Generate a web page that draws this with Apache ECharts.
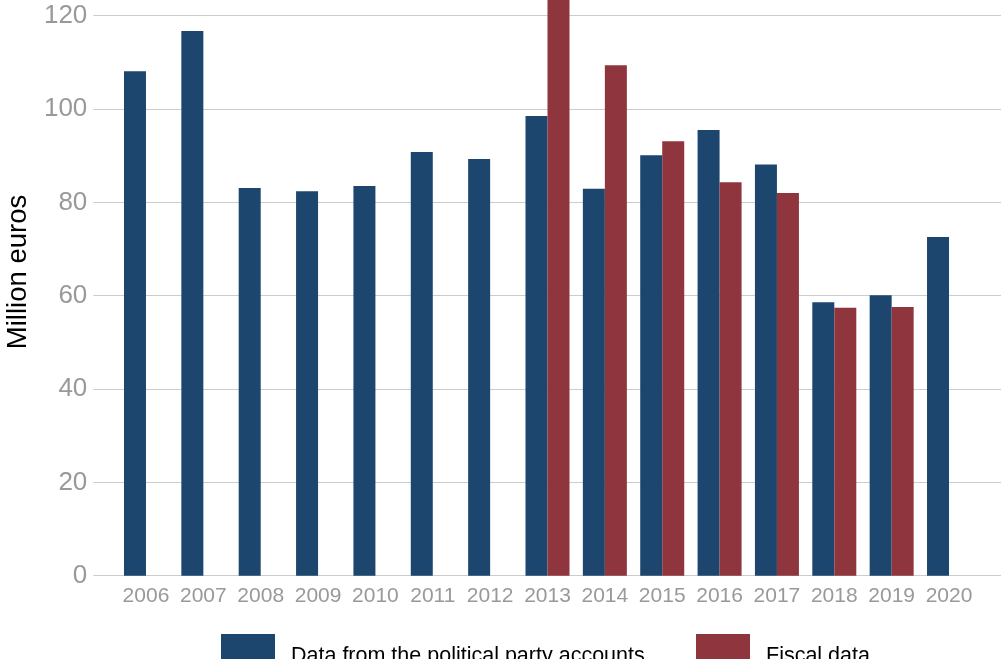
<!DOCTYPE html>
<html>
<head>
<meta charset="utf-8">
<script src="https://cdn.jsdelivr.net/npm/echarts@6/dist/echarts.min.js"></script>
<style>
html,body{margin:0;padding:0;background:#fff;}
#chart{width:1003px;height:659px;}
</style>
</head>
<body>
<div id="chart"></div>
<script>
const years = ['2006','2007','2008','2009','2010','2011','2012','2013','2014','2015','2016','2017','2018','2019','2020'];
const partyAccounts = [108.1, 116.7, 83.1, 82.4, 83.5, 90.8, 89.3, 98.5, 82.9, 90.1, 95.5, 88.1, 58.6, 60.1, 72.6];
const fiscalData = [null, null, null, null, null, null, null, 131.0, 109.4, 93.1, 84.3, 82.0, 57.4, 57.6, null];
const seriesNames = ['Data from the political party accounts', 'Fiscal data'];
const yAxisTitle = 'Million euros';

const FONT = "'Liberation Sans', Arial, Helvetica, sans-serif";
const BLUE = '#1C466E';
const RED = '#8E353E';
const YMAX = 123.36;

const chart = echarts.init(document.getElementById('chart'));
chart.setOption({
  backgroundColor: '#ffffff',
  animation: false,
  textStyle: { fontFamily: FONT },
  grid: [
    { left: 93.3, right: 2, top: 0, bottom: 83.3, containLabel: false },
    { left: 117.3, right: 25.3, top: 0, bottom: 83.3, containLabel: false }
  ],
  xAxis: [
    { gridIndex: 0, type: 'value', min: 0, max: 1, show: false },
    {
      gridIndex: 1, type: 'category', data: years,
      axisLine: { show: false }, axisTick: { show: false },
      axisLabel: { fontSize: 21, color: '#999999', margin: 10, fontFamily: FONT, interval: 0 }
    }
  ],
  yAxis: [
    {
      gridIndex: 0, type: 'value', min: 0, max: YMAX, interval: 20,
      axisLine: { show: false }, axisTick: { show: false },
      axisLabel: {
        fontSize: 26, color: '#999999', margin: 6, fontFamily: FONT,
        showMaxLabel: false,
        formatter: v => (Math.abs(v % 20) < 1e-9 ? String(v) : '')
      },
      splitLine: { show: true, showMaxLine: false, lineStyle: { color: '#cccccc', width: 1 } }
    },
    { gridIndex: 1, type: 'value', min: 0, max: YMAX, show: false, splitLine: { show: false } }
  ],
  graphic: [
    {
      type: 'text', x: 18, y: 272, rotation: Math.PI / 2,
      style: {
        text: yAxisTitle, fontSize: 27.5, fill: '#000000', fontFamily: FONT,
        align: 'center', verticalAlign: 'middle'
      }
    }
  ],
  legend: [
    {
      data: [seriesNames[0]], left: 221, top: 634, padding: 0,
      itemWidth: 54, itemHeight: 44, icon: 'rect',
      textStyle: { fontSize: 21.5, color: '#000000', fontFamily: FONT, padding: [0, 0, 0, 11] }
    },
    {
      data: [seriesNames[1]], left: 696, top: 634, padding: 0,
      itemWidth: 54, itemHeight: 44, icon: 'rect',
      textStyle: { fontSize: 21.5, color: '#000000', fontFamily: FONT, padding: [0, 0, 0, 11] }
    }
  ],
  series: [
    {
      name: seriesNames[0], type: 'bar', xAxisIndex: 1, yAxisIndex: 1,
      data: partyAccounts, barWidth: 22, barGap: '0%', clip: false,
      itemStyle: { color: BLUE }
    },
    {
      name: seriesNames[1], type: 'bar', xAxisIndex: 1, yAxisIndex: 1,
      data: fiscalData, barWidth: 22, barGap: '0%', clip: false,
      itemStyle: { color: RED }
    }
  ]
});
</script>
</body>
</html>
